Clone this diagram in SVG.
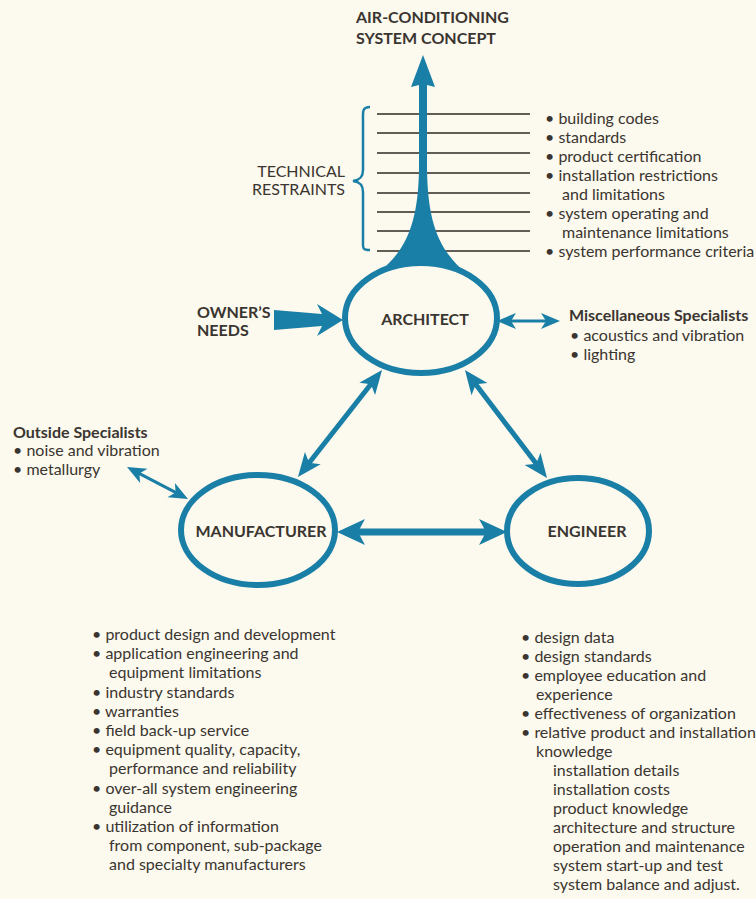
<svg xmlns="http://www.w3.org/2000/svg" width="756" height="899" viewBox="0 0 756 899">
<style>
text{font-family:Lato,"Open Sans","Liberation Sans",sans-serif;fill:#3a3530;font-size:16px}
.b{font-weight:bold}
.n{font-weight:bold;text-anchor:middle}
.cap{text-anchor:end}
.node{fill:none;stroke:#1a7fa6;stroke-width:6}
.ln{stroke:#1a7fa6;fill:none}
.rule{stroke:#2e2a26;stroke-width:1.6}
.blue{fill:#1a7fa6}
</style>
<defs>
<marker id="ht" markerUnits="userSpaceOnUse" viewBox="-20 -12 30 24" markerWidth="30" markerHeight="24" refX="0" refY="0" orient="auto-start-reverse"><path d="M6,0 L-13,-8 L-8,0 L-13,8 Z" fill="#1a7fa6"/></marker>
<marker id="hm" markerUnits="userSpaceOnUse" viewBox="-22 -14 34 28" markerWidth="34" markerHeight="28" refX="0" refY="0" orient="auto-start-reverse"><path d="M8,0 L-16,-10 L-10,0 L-16,10 Z" fill="#1a7fa6"/></marker>
<marker id="hb" markerUnits="userSpaceOnUse" viewBox="-26 -16 40 32" markerWidth="40" markerHeight="32" refX="0" refY="0" orient="auto-start-reverse"><path d="M8,0 L-20,-13 L-13,0 L-20,13 Z" fill="#1a7fa6"/></marker>
</defs>
<rect width="756" height="899" fill="#fcf9ee"/>

<g id="title">
<text class="b" x="356" y="23">AIR-CONDITIONING</text>
<text class="b" x="356" y="44">SYSTEM CONCEPT</text>
</g>

<g id="restraints">
<path d="M370,107 C362,107 363,112 363,120 L363,170 C363,177 360,180 353,181 C360,182 363,185 363,192 L363,240 C363,248 362,250 370,250" class="ln" stroke-width="2.5"/>
<text class="cap" x="345" y="177">TECHNICAL</text>
<text class="cap" x="345" y="195">RESTRAINTS</text>
<line class="rule" x1="377" y1="114" x2="530" y2="114"/>
<line class="rule" x1="377" y1="133" x2="530" y2="133"/>
<line class="rule" x1="377" y1="153" x2="530" y2="153"/>
<line class="rule" x1="377" y1="173" x2="530" y2="173"/>
<line class="rule" x1="377" y1="193" x2="530" y2="193"/>
<line class="rule" x1="377" y1="212" x2="530" y2="212"/>
<line class="rule" x1="377" y1="231" x2="530" y2="231"/>
<line class="rule" x1="377" y1="251" x2="530" y2="251"/>
<text x="545" y="124">• building codes</text>
<text x="545" y="143">• standards</text>
<text x="545" y="162">• product certification</text>
<text x="545" y="181">• installation restrictions</text>
<text x="562" y="200">and limitations</text>
<text x="545" y="219">• system operating and</text>
<text x="562" y="238">maintenance limitations</text>
<text x="545" y="257">• system performance criteria</text>
</g>

<g id="concept-arrow">
<path class="blue" d="M423,55 L435,87 L427,85 L427,170 C428,222 438,250 468,275 Q423,251 378,273 C407,250 418,222 419,170 L419,85 L411,87 Z"/>
</g>

<g id="architect">
<ellipse class="node" cx="421" cy="318" rx="76" ry="55"/>
<text class="n" x="425" y="325">ARCHITECT</text>
</g>

<g id="manufacturer">
<ellipse class="node" cx="258" cy="530" rx="77" ry="55"/>
<text class="n" x="261" y="537">MANUFACTURER</text>
</g>

<g id="engineer">
<ellipse class="node" cx="578" cy="531" rx="71" ry="53"/>
<text class="n" x="587" y="537">ENGINEER</text>
</g>

<g id="owners-needs">
<text class="b" x="197" y="318">OWNER’S</text>
<text class="b" x="197" y="336">NEEDS</text>
</g>

<g id="misc-specialists">
<text class="b" x="569" y="321">Miscellaneous Specialists</text>
<text x="570" y="341">• acoustics and vibration</text>
<text x="570" y="360">• lighting</text>
</g>

<g id="outside-specialists">
<text class="b" x="13" y="438">Outside Specialists</text>
<text x="13" y="456">• noise and vibration</text>
<text x="13" y="475">• metallurgy</text>
</g>

<g id="connectors">
<path class="blue" d="M274,310 L322,314 L317,304 L343,320 L317,336 L322,326 L274,330 Z"/>
<line class="ln" stroke-width="3" x1="503" y1="321" x2="554" y2="321" marker-start="url(#ht)" marker-end="url(#ht)"/>
<line class="ln" stroke-width="3" x1="132.3" y1="469.8" x2="182.7" y2="496.2" marker-start="url(#ht)" marker-end="url(#ht)"/>
<line class="ln" stroke-width="5" x1="377.1" y1="376.3" x2="302.9" y2="470.7" marker-start="url(#hm)" marker-end="url(#hm)"/>
<line class="ln" stroke-width="5" x1="469.8" y1="376.4" x2="542.2" y2="471.6" marker-start="url(#hm)" marker-end="url(#hm)"/>
<line class="ln" stroke-width="7" x1="345" y1="532" x2="499" y2="532" marker-start="url(#hb)" marker-end="url(#hb)"/>
</g>

<g id="manufacturer-list">
<text x="92" y="640">• product design and development</text>
<text x="92" y="659">• application engineering and</text>
<text x="109" y="678">equipment limitations</text>
<text x="92" y="698">• industry standards</text>
<text x="92" y="717">• warranties</text>
<text x="92" y="736">• field back-up service</text>
<text x="92" y="755">• equipment quality, capacity,</text>
<text x="109" y="774">performance and reliability</text>
<text x="92" y="794">• over-all system engineering</text>
<text x="109" y="813">guidance</text>
<text x="92" y="832">• utilization of information</text>
<text x="109" y="851">from component, sub-package</text>
<text x="109" y="870">and specialty manufacturers</text>
</g>

<g id="engineer-list">
<text x="521" y="643">• design data</text>
<text x="521" y="662">• design standards</text>
<text x="521" y="681">• employee education and</text>
<text x="536" y="700">experience</text>
<text x="521" y="719">• effectiveness of organization</text>
<text x="521" y="738">• relative product and installation</text>
<text x="536" y="757">knowledge</text>
<text x="553" y="776">installation details</text>
<text x="553" y="795">installation costs</text>
<text x="553" y="814">product knowledge</text>
<text x="553" y="833">architecture and structure</text>
<text x="553" y="852">operation and maintenance</text>
<text x="553" y="871">system start-up and test</text>
<text x="553" y="890">system balance and adjust.</text>
</g>
</svg>
